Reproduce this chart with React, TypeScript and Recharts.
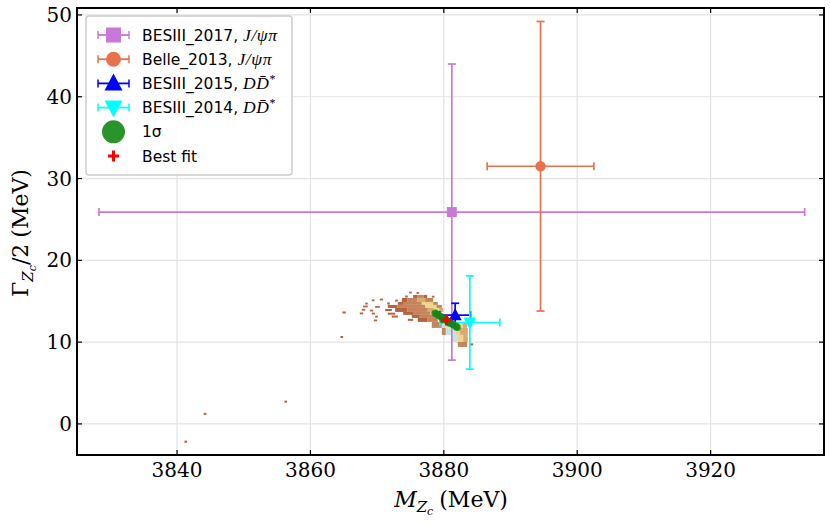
import {
  CartesianGrid,
  ErrorBar,
  ReferenceArea,
  ReferenceLine,
  Scatter,
  ScatterChart,
  XAxis,
  YAxis,
} from "recharts";

const WIDTH = 830;
const HEIGHT = 526;

const X_DOMAIN: [number, number] = [3825, 3937];
const Y_DOMAIN: [number, number] = [-3.8, 50.85];
const X_TICKS = [3840, 3860, 3880, 3900, 3920];
const Y_TICKS = [0, 10, 20, 30, 40, 50];

// Zc(3900) measurements: mass, half width, total errors (MeV)
const BESIII_2017 = [{ x: 3881.2, y: 25.9, ex: 52.9, ey: 18.1 }];
const BELLE_2013 = [{ x: 3894.5, y: 31.5, ex: 8.0, ey: 17.7 }];
const BESIII_2015 = [{ x: 3881.7, y: 13.3, ex: 2.3, ey: 1.45 }];
const BESIII_2014 = [{ x: 3883.9, y: 12.4, ex: 4.5, ey: 5.7 }];

const BEST_FIT = [{ x: 3880.4, y: 12.7 }];

// points inside the 1 sigma region
const SIGMA_1 = [
  { x: 3878.7, y: 13.55 },
  { x: 3879.0, y: 13.4 },
  { x: 3879.3, y: 13.25 },
  { x: 3879.6, y: 13.1 },
  { x: 3879.9, y: 12.75 },
  { x: 3880.0, y: 12.9 },
  { x: 3880.3, y: 12.75 },
  { x: 3880.7, y: 12.55 },
  { x: 3880.9, y: 12.3 },
  { x: 3881.0, y: 12.4 },
  { x: 3881.4, y: 12.15 },
  { x: 3881.8, y: 11.95 },
  { x: 3882.0, y: 11.8 },
];

// posterior sample histogram: [x0, x1, y0, y1, density level]
const HIST_CELLS: [number, number, number, number, number][] = [
  [3841.1, 3841.5, -2.3, -2.05, 1],
  [3844.0, 3844.4, 1.1, 1.35, 1],
  [3856.1, 3856.5, 2.6, 2.85, 1],
  [3864.5, 3864.9, 10.5, 10.75, 1],
  [3864.8, 3865.3, 13.5, 13.75, 1],
  [3874.8, 3875.2, 15.95, 16.18, 1],
  [3875.9, 3876.3, 15.9, 16.12, 1],
  [3874.2, 3874.6, 15.45, 15.7, 1],
  [3875.4, 3876.0, 15.4, 15.77, 1],
  [3876.0, 3877.0, 15.4, 15.77, 2],
  [3877.0, 3877.5, 15.4, 15.77, 1],
  [3878.2, 3878.6, 15.45, 15.67, 1],
  [3869.2, 3869.6, 15.0, 15.22, 1],
  [3870.4, 3870.9, 15.1, 15.32, 1],
  [3872.7, 3873.1, 14.95, 15.2, 1],
  [3873.7, 3874.5, 14.91, 15.4, 1],
  [3874.5, 3876.0, 14.91, 15.4, 2],
  [3876.0, 3877.2, 14.91, 15.4, 3],
  [3877.2, 3878.4, 14.91, 15.4, 2],
  [3868.2, 3868.6, 14.6, 14.82, 1],
  [3871.5, 3871.9, 14.6, 14.85, 1],
  [3873.1, 3874.0, 14.55, 14.91, 1],
  [3874.0, 3876.7, 14.55, 14.91, 2],
  [3876.7, 3878.4, 14.55, 14.91, 4],
  [3878.4, 3879.1, 14.55, 14.91, 2],
  [3867.9, 3868.6, 14.25, 14.47, 1],
  [3869.7, 3870.4, 14.2, 14.42, 1],
  [3871.6, 3873.0, 14.18, 14.55, 1],
  [3873.0, 3877.2, 14.18, 14.55, 2],
  [3877.2, 3878.9, 14.18, 14.55, 4],
  [3878.9, 3879.7, 14.18, 14.55, 2],
  [3867.7, 3868.2, 13.85, 14.07, 1],
  [3868.9, 3869.4, 13.75, 13.97, 1],
  [3871.2, 3872.2, 13.8, 14.05, 1],
  [3872.7, 3874.5, 13.69, 14.18, 1],
  [3874.5, 3877.6, 13.69, 14.18, 2],
  [3877.6, 3878.5, 13.69, 14.18, 3],
  [3878.5, 3879.3, 13.69, 14.18, 4],
  [3879.3, 3879.9, 13.69, 14.18, 3],
  [3867.4, 3867.9, 13.4, 13.62, 1],
  [3869.2, 3869.7, 13.38, 13.6, 1],
  [3871.6, 3872.7, 13.35, 13.6, 1],
  [3873.9, 3875.5, 13.33, 13.69, 1],
  [3875.5, 3878.0, 13.33, 13.69, 2],
  [3878.0, 3879.2, 13.33, 13.69, 3],
  [3869.7, 3870.1, 13.0, 13.22, 1],
  [3872.2, 3873.1, 13.0, 13.25, 1],
  [3875.2, 3876.4, 12.96, 13.33, 1],
  [3876.4, 3879.1, 12.96, 13.33, 2],
  [3869.5, 3870.0, 12.55, 12.77, 1],
  [3874.6, 3875.4, 12.6, 12.85, 1],
  [3876.1, 3877.5, 12.47, 12.96, 1],
  [3877.5, 3879.1, 12.47, 12.96, 2],
  [3878.2, 3879.7, 11.74, 12.47, 2],
  [3879.7, 3880.8, 11.74, 12.47, 5],
  [3880.8, 3881.7, 11.74, 12.47, 4],
  [3881.7, 3882.0, 11.74, 12.47, 3],
  [3882.0, 3882.8, 11.74, 12.47, 4],
  [3882.8, 3883.5, 11.74, 12.47, 3],
  [3879.7, 3880.3, 10.88, 11.74, 2],
  [3880.3, 3881.7, 10.88, 11.74, 5],
  [3881.7, 3882.4, 10.88, 11.74, 4],
  [3882.4, 3883.6, 10.88, 11.74, 3],
  [3881.2, 3882.1, 10.02, 10.88, 5],
  [3882.1, 3882.9, 10.02, 10.88, 4],
  [3882.9, 3883.6, 10.02, 10.88, 3],
  [3882.1, 3883.5, 9.41, 10.02, 2],
  [3883.9, 3884.4, 9.6, 9.85, 1],
];

const HIST_COLORS = ["#ffffff", "#b3633f", "#c6845b", "#d9ab74", "#ebd68b", "#c6e4dc"];

const VIOLET = "#c878d8";
const ORANGE = "#e8724c";
const BLUE = "#0000ff";
const CYAN = "#00ffff";
const GREEN = "#128812";
const RED = "#ff0000";

const LEGEND_NAMES = ["BESIII_2017, ", "Belle_2013, ", "BESIII_2015, ", "BESIII_2014, ", "1σ", "Best fit"];
const LEGEND_CHANNELS = ["J/ψπ", "J/ψπ", "DD\u0304", "DD\u0304", "", ""];

const square = (p: any) => (
  <rect x={p.cx - 5} y={p.cy - 5} width={10} height={10} fill={VIOLET} />
);
const dot = (p: any) => <circle cx={p.cx} cy={p.cy} r={5.2} fill={ORANGE} />;
const triUp = (p: any) => (
  <polygon
    points={`${p.cx},${p.cy - 7} ${p.cx - 6.5},${p.cy + 5} ${p.cx + 6.5},${p.cy + 5}`}
    fill={BLUE}
  />
);
const triDown = (p: any) => (
  <polygon
    points={`${p.cx},${p.cy + 7} ${p.cx - 6.5},${p.cy - 5} ${p.cx + 6.5},${p.cy - 5}`}
    fill={CYAN}
  />
);
const blob = (p: any) => <circle cx={p.cx} cy={p.cy} r={3.6} fill={GREEN} fillOpacity={0.9} />;
const plus = (p: any) => (
  <g stroke={RED} strokeWidth={3}>
    <line x1={p.cx - 5.5} y1={p.cy} x2={p.cx + 5.5} y2={p.cy} />
    <line x1={p.cx} y1={p.cy - 5.5} x2={p.cx} y2={p.cy + 5.5} />
  </g>
);

function LegendIcon({ i, cy }: { i: number; cy: number }) {
  const colors = [VIOLET, ORANGE, BLUE, CYAN];
  const cx = 113.5;
  if (i < 4) {
    const c = colors[i];
    return (
      <g>
        <line x1={98} y1={cy} x2={129} y2={cy} stroke={c} strokeWidth={1.8} />
        <line x1={98} y1={cy - 4} x2={98} y2={cy + 4} stroke={c} strokeWidth={1.5} />
        <line x1={129} y1={cy - 4} x2={129} y2={cy + 4} stroke={c} strokeWidth={1.5} />
        {i === 0 && <rect x={cx - 7.5} y={cy - 7.5} width={15} height={15} fill={c} />}
        {i === 1 && <circle cx={cx} cy={cy} r={7.5} fill={c} />}
        {i === 2 && (
          <polygon points={`${cx},${cy - 10} ${cx - 9},${cy + 7} ${cx + 9},${cy + 7}`} fill={c} />
        )}
        {i === 3 && (
          <polygon points={`${cx},${cy + 10} ${cx - 9},${cy - 7} ${cx + 9},${cy - 7}`} fill={c} />
        )}
      </g>
    );
  }
  if (i === 4) return <circle cx={cx} cy={cy} r={11.5} fill={GREEN} fillOpacity={0.9} />;
  return (
    <g stroke={RED} strokeWidth={3}>
      <line x1={cx - 5.5} y1={cy} x2={cx + 5.5} y2={cy} />
      <line x1={cx} y1={cy - 5.5} x2={cx} y2={cy + 5.5} />
    </g>
  );
}

export default function App() {
  const tick = { fontFamily: "DejaVu Serif", fontSize: 20, fill: "#000" };
  return (
    <div
      style={{ position: "absolute", left: 0, top: 0, width: WIDTH, height: HEIGHT, background: "#fff" }}
    >
      <ScatterChart width={WIDTH} height={HEIGHT} margin={{ top: 8, right: 6, bottom: 31, left: 0 }}>
        <CartesianGrid stroke="#e3e3e3" strokeWidth={1.2} />
        <XAxis
          type="number"
          dataKey="x"
          domain={X_DOMAIN}
          ticks={X_TICKS}
          allowDataOverflow
          height={40}
          tickLine={false}
          axisLine={false}
          tick={tick}
        />
        <YAxis
          type="number"
          dataKey="y"
          domain={Y_DOMAIN}
          ticks={Y_TICKS}
          allowDataOverflow
          width={77}
          tickSize={3}
          tickLine={false}
          axisLine={false}
          tick={tick}
        />
        {HIST_CELLS.map(([x0, x1, y0, y1, lv], k) => (
          <ReferenceArea
            key={`h${k}`}
            x1={x0}
            x2={x1}
            y1={y0}
            y2={y1}
            fill={HIST_COLORS[lv]}
            fillOpacity={1}
            stroke="none"
            ifOverflow="visible"
          />
        ))}
        <Scatter data={BESIII_2017} fill={VIOLET} shape={square} isAnimationActive={false}>
          <ErrorBar dataKey="ex" direction="x" width={4} stroke={VIOLET} strokeWidth={1.7} isAnimationActive={false} />
          <ErrorBar dataKey="ey" direction="y" width={4} stroke={VIOLET} strokeWidth={1.7} isAnimationActive={false} />
        </Scatter>
        <Scatter data={BELLE_2013} fill={ORANGE} shape={dot} isAnimationActive={false}>
          <ErrorBar dataKey="ex" direction="x" width={4} stroke={ORANGE} strokeWidth={1.7} isAnimationActive={false} />
          <ErrorBar dataKey="ey" direction="y" width={4} stroke={ORANGE} strokeWidth={1.7} isAnimationActive={false} />
        </Scatter>
        <Scatter data={SIGMA_1} fill={GREEN} shape={blob} isAnimationActive={false} />
        <Scatter data={BESIII_2015} fill={BLUE} shape={triUp} isAnimationActive={false}>
          <ErrorBar dataKey="ex" direction="x" width={4} stroke={BLUE} strokeWidth={1.7} isAnimationActive={false} />
          <ErrorBar dataKey="ey" direction="y" width={4} stroke={BLUE} strokeWidth={1.7} isAnimationActive={false} />
        </Scatter>
        <Scatter data={BESIII_2014} fill={CYAN} shape={triDown} isAnimationActive={false}>
          <ErrorBar dataKey="ex" direction="x" width={4} stroke={CYAN} strokeWidth={1.7} isAnimationActive={false} />
          <ErrorBar dataKey="ey" direction="y" width={4} stroke={CYAN} strokeWidth={1.7} isAnimationActive={false} />
        </Scatter>
        <Scatter data={BEST_FIT} fill={RED} shape={plus} isAnimationActive={false} />
        {X_TICKS.map((t) => (
          <ReferenceLine
            key={`xb${t}`}
            segment={[{ x: t, y: Y_DOMAIN[0] }, { x: t, y: Y_DOMAIN[0] + 0.6 }]}
            stroke="#000"
            strokeWidth={1.2}
            ifOverflow="visible"
          />
        ))}
        {X_TICKS.map((t) => (
          <ReferenceLine
            key={`xt${t}`}
            segment={[{ x: t, y: Y_DOMAIN[1] }, { x: t, y: Y_DOMAIN[1] - 0.6 }]}
            stroke="#000"
            strokeWidth={1.2}
            ifOverflow="visible"
          />
        ))}
        {Y_TICKS.map((t) => (
          <ReferenceLine
            key={`yl${t}`}
            segment={[{ x: X_DOMAIN[0], y: t }, { x: X_DOMAIN[0] + 0.75, y: t }]}
            stroke="#000"
            strokeWidth={1.2}
            ifOverflow="visible"
          />
        ))}
        {Y_TICKS.map((t) => (
          <ReferenceLine
            key={`yr${t}`}
            segment={[{ x: X_DOMAIN[1], y: t }, { x: X_DOMAIN[1] - 0.75, y: t }]}
            stroke="#000"
            strokeWidth={1.2}
            ifOverflow="visible"
          />
        ))}
        <ReferenceArea
          x1={X_DOMAIN[0]}
          x2={X_DOMAIN[1]}
          y1={Y_DOMAIN[0]}
          y2={Y_DOMAIN[1]}
          fill="none"
          stroke="#000"
          strokeWidth={2}
          strokeOpacity={1}
          ifOverflow="visible"
        />
      </ScatterChart>
      <svg
        width={WIDTH}
        height={HEIGHT}
        style={{ position: "absolute", left: 0, top: 0, pointerEvents: "none" }}
      >
        <text x={451} y={507} textAnchor="middle" fontFamily="DejaVu Serif" fontSize={22} fill="#000">
          <tspan fontStyle="italic">M</tspan>
          <tspan fontStyle="italic" fontSize={15} dy={5}>Z</tspan>
          <tspan fontStyle="italic" fontSize={11} dy={3}>c</tspan>
          <tspan dy={-8} dx={6}>(MeV)</tspan>
        </text>
        <text
          transform="translate(28,233) rotate(-90)"
          textAnchor="middle"
          fontFamily="DejaVu Serif"
          fontSize={22}
          fill="#000"
        >
          <tspan>Γ</tspan>
          <tspan fontStyle="italic" fontSize={15} dy={5}>Z</tspan>
          <tspan fontStyle="italic" fontSize={11} dy={3}>c</tspan>
          <tspan dy={-8}>/2</tspan>
          <tspan dx={6}>(MeV)</tspan>
        </text>
        <rect x={86} y={16} width={206} height={159} rx={3} fill="#fff" fillOpacity={0.85} stroke="#cccccc" strokeWidth={1.5} />
        {LEGEND_NAMES.map((name, i) => {
          const cy = 35 + i * 24.2;
          return (
            <g key={name}>
              <LegendIcon i={i} cy={cy} />
              <text x={142} y={cy + 5.5} fontFamily="DejaVu Sans" fontSize={15.5} fill="#000">
                {name}
                {LEGEND_CHANNELS[i] && (
                  <tspan fontFamily="Liberation Serif" fontStyle="italic" fontSize={17.5} letterSpacing={0.6}>
                    {LEGEND_CHANNELS[i]}
                  </tspan>
                )}
                {i === 2 || i === 3 ? (
                  <tspan fontFamily="Liberation Serif" fontSize={12} dy={-6}>*</tspan>
                ) : null}
              </text>
            </g>
          );
        })}
      </svg>
    </div>
  );
}
